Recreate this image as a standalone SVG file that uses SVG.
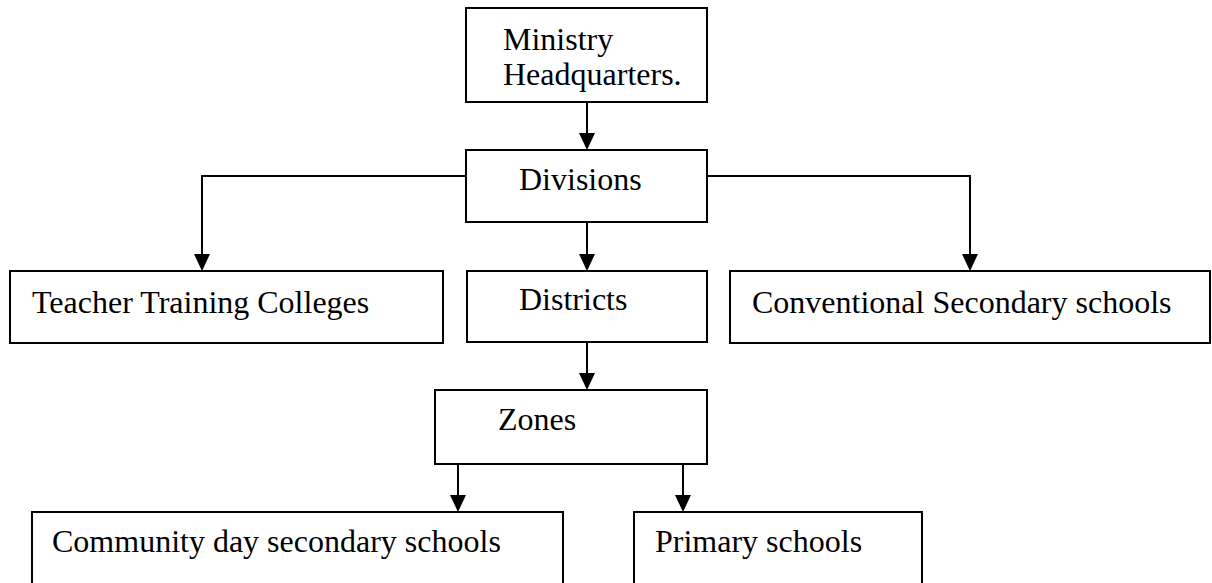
<svg xmlns="http://www.w3.org/2000/svg" width="1212" height="583" viewBox="0 0 1212 583">
<style>
.box{fill:#fff;stroke:#000;stroke-width:2}
.lbl{font-family:"Liberation Serif","Times New Roman",serif;font-size:32px;fill:#000}
.conn{fill:none;stroke:#000;stroke-width:2}
</style>
<defs>
<marker id="arr" markerUnits="userSpaceOnUse" markerWidth="16" markerHeight="18" viewBox="0 0 16 18" refX="8" refY="18" orient="auto-start-reverse">
<path d="M0,0 L16,0 L8,18 Z" fill="#000" transform="rotate(0)"/>
</marker>
</defs>
<rect width="1212" height="583" fill="#fff"/>
<g id="connectors">
<polygon points="579,133 595,133 587,150" fill="#000"/>
<line class="conn" x1="587" y1="102" x2="587" y2="134"/>
<polyline class="conn" points="466,176 202,176 202,254"/>
<polygon points="194,254 210,254 202,271" fill="#000"/>
<polyline class="conn" points="707,176 970,176 970,254"/>
<polygon points="962,254 978,254 970,271" fill="#000"/>
<line class="conn" x1="587" y1="222" x2="587" y2="254"/>
<polygon points="579,254 595,254 587,271" fill="#000"/>
<line class="conn" x1="587" y1="342" x2="587" y2="373"/>
<polygon points="579,373 595,373 587,390" fill="#000"/>
<line class="conn" x1="458" y1="464" x2="458" y2="495"/>
<polygon points="450,495 466,495 458,512" fill="#000"/>
<line class="conn" x1="683" y1="464" x2="683" y2="495"/>
<polygon points="675,495 691,495 683,512" fill="#000"/>
</g>
<g id="ministry">
<rect class="box" x="466" y="8" width="241" height="94"/>
<text class="lbl" x="503" y="50">Ministry</text>
<text class="lbl" x="503" y="85">Headquarters.</text>
</g>
<g id="divisions">
<rect class="box" x="466" y="150" width="241" height="72"/>
<text class="lbl" x="519" y="190">Divisions</text>
</g>
<g id="teacher">
<rect class="box" x="10" y="271" width="433" height="72"/>
<text class="lbl" x="32" y="313">Teacher Training Colleges</text>
</g>
<g id="districts">
<rect class="box" x="467" y="271" width="240" height="71"/>
<text class="lbl" x="519" y="310">Districts</text>
</g>
<g id="conventional">
<rect class="box" x="730" y="271" width="480" height="72"/>
<text class="lbl" x="752" y="313">Conventional Secondary schools</text>
</g>
<g id="zones">
<rect class="box" x="435" y="390" width="272" height="74"/>
<text class="lbl" x="498" y="430">Zones</text>
</g>
<g id="community">
<rect class="box" x="32" y="512" width="531" height="80"/>
<text class="lbl" x="52" y="552">Community day secondary schools</text>
</g>
<g id="primary">
<rect class="box" x="634" y="512" width="288" height="80"/>
<text class="lbl" x="655" y="552">Primary schools</text>
</g>
</svg>
